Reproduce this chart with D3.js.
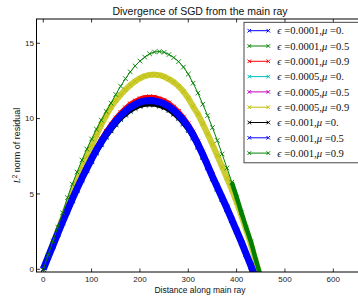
<!DOCTYPE html>
<html lang="en">
<head>
  <meta charset="utf-8">
  <title>Divergence of SGD from the main ray</title>
  <script src="https://d3js.org/d3.v7.min.js"></script>
  <style>
    body { margin: 0; background: #fff; }
    svg { display: block; font-family: "Liberation Sans", Arial, sans-serif; }
  </style>
</head>
<body>
  <div id="chart"></div>
  <script>
    // Distance samples along the main ray (shared by all runs)
    const distance = [0, 10, 20, 30, 40, 50, 60, 70, 80, 90, 100, 110, 120, 130, 140, 150, 160, 170, 180, 190,
      200, 210, 220, 230, 240, 250, 260, 270, 280, 290, 300, 310, 320, 330, 340, 350, 360, 370, 380, 390,
      400, 410, 420, 430, 440, 450];

    // L2 norm of residual, one array per (epsilon, mu) run
    const e0001m0 = [0, 0.79, 1.56, 2.34, 3.1, 3.84, 4.57, 5.27, 5.94, 6.58, 7.2, 7.78, 8.31, 8.81, 9.25, 9.65, 10.01, 10.3, 10.56, 10.74,
      10.89, 10.97, 11.0, 10.98, 10.9, 10.78, 10.61, 10.36, 10.07, 9.7, 9.28, 8.76, 8.15, 7.48, 6.78, 6.04, 5.35, 4.66, 3.98, 3.24,
      2.5, 1.77, 0.98, 0.2, -0.65, null];
    const e0001m05 = [0, 0.79, 1.57, 2.35, 3.12, 3.86, 4.59, 5.3, 5.97, 6.61, 7.23, 7.82, 8.35, 8.85, 9.3, 9.7, 10.06, 10.35, 10.61, 10.8,
      10.95, 11.02, 11.05, 11.03, 10.96, 10.84, 10.66, 10.41, 10.12, 9.75, 9.33, 8.8, 8.19, 7.52, 6.81, 6.07, 5.38, 4.69, 4.0, 3.26,
      2.52, 1.78, 0.99, 0.2, -0.65, null];
    const e0001m09 = [0, 0.82, 1.62, 2.43, 3.23, 4.0, 4.75, 5.49, 6.18, 6.85, 7.49, 8.09, 8.65, 9.17, 9.63, 10.05, 10.41, 10.72, 10.99, 11.18,
      11.33, 11.42, 11.45, 11.43, 11.34, 11.22, 11.04, 10.78, 10.48, 10.1, 9.66, 9.12, 8.48, 7.79, 7.05, 6.29, 5.57, 4.85, 4.14, 3.37,
      2.61, 1.84, 1.02, 0.2, -0.65, null];
    const e0005m0 = [0, 0.78, 1.56, 2.33, 3.1, 3.83, 4.56, 5.26, 5.93, 6.57, 7.18, 7.76, 8.29, 8.79, 9.23, 9.63, 9.99, 10.28, 10.54, 10.72,
      10.87, 10.95, 10.98, 10.96, 10.88, 10.76, 10.58, 10.34, 10.05, 9.68, 9.26, 8.74, 8.13, 7.47, 6.76, 6.03, 5.34, 4.66, 3.97, 3.23,
      2.5, 1.76, 0.98, 0.2, -0.65, null];
    const e0005m05 = [0, 0.79, 1.57, 2.36, 3.13, 3.87, 4.6, 5.32, 5.99, 6.63, 7.26, 7.84, 8.38, 8.88, 9.33, 9.73, 10.09, 10.39, 10.64, 10.83,
      10.98, 11.06, 11.09, 11.07, 10.99, 10.87, 10.69, 10.44, 10.15, 9.78, 9.36, 8.83, 8.22, 7.54, 6.83, 6.09, 5.4, 4.7, 4.01, 3.27,
      2.52, 1.78, 0.99, 0.2, -0.65, null];
    const e0005m09 = [0, 0.85, 1.7, 2.55, 3.4, 4.25, 5.1, 5.9, 6.7, 7.45, 8.2, 8.9, 9.6, 10.2, 10.75, 11.2, 11.58, 11.92, 12.22, 12.48,
      12.68, 12.82, 12.9, 12.92, 12.88, 12.78, 12.62, 12.42, 12.15, 11.8, 11.35, 10.8, 10.3, 9.65, 8.98, 8.28, 7.55, 6.8, 6.05, 5.3,
      4.45, 3.55, 2.6, 1.6, 0.5, -0.6];
    const e001m0 = [0, 0.78, 1.55, 2.32, 3.08, 3.81, 4.53, 5.24, 5.9, 6.53, 7.15, 7.72, 8.25, 8.75, 9.18, 9.58, 9.94, 10.23, 10.48, 10.67,
      10.81, 10.89, 10.92, 10.9, 10.82, 10.71, 10.53, 10.29, 9.99, 9.63, 9.21, 8.7, 8.09, 7.43, 6.73, 6.0, 5.31, 4.63, 3.95, 3.22,
      2.49, 1.76, 0.98, 0.2, -0.65, null];
    const e001m05 = [0, 0.8, 1.59, 2.38, 3.16, 3.91, 4.65, 5.37, 6.05, 6.7, 7.33, 7.92, 8.46, 8.97, 9.42, 9.83, 10.19, 10.49, 10.75, 10.94,
      11.09, 11.17, 11.2, 11.18, 11.1, 10.98, 10.8, 10.55, 10.25, 9.88, 9.45, 8.92, 8.3, 7.62, 6.9, 6.15, 5.45, 4.75, 4.05, 3.3,
      2.55, 1.8, 1.0, 0.2, -0.65, null];
    const e001m09 = [0, 0.93, 1.87, 2.8, 3.75, 4.75, 5.65, 6.45, 7.25, 7.98, 8.65, 9.3, 9.9, 10.48, 11.03, 11.6, 12.15, 12.65, 13.1, 13.5,
      13.82, 14.08, 14.3, 14.42, 14.45, 14.4, 14.25, 14.05, 13.78, 13.42, 12.95, 12.35, 11.7, 10.95, 10.2, 9.4, 8.55, 7.65, 6.72, 5.78,
      4.8, 3.75, 2.75, 1.8, 0.6, -0.5];

    const runs = [e0001m0, e0001m05, e0001m09, e0005m0, e0005m05, e0005m09, e001m0, e001m05, e001m09];
    const epsLabels = ["0.0001", "0.0001", "0.0001", "0.0005", "0.0005", "0.0005", "0.001", "0.001", "0.001"];
    const muLabels = ["0.", "0.5", "0.9", "0.", "0.5", "0.9", "0.", "0.5", "0.9"];
    const colors = ["#0000ff", "#008000", "#ff0000", "#00bfbf", "#bf00bf", "#bfbf00", "#000000", "#0000ff", "#008000"];
    // width of the band the densely packed markers make
    const bandWidths = [4.2, 4.2, 4.2, 4.2, 4.2, 6, 3.2, 7, 1];

    const xTicks = [0, 100, 200, 300, 400, 500, 600];
    const yTicks = [0, 5, 10, 15];

    const width = 358, height = 298;
    const plotL = 36.5, plotR = 362.3, plotT = 19, plotB = 272;

    const x = d3.scaleLinear().domain([-14, 660]).range([plotL, plotR]);
    const y = d3.scaleLinear().domain([-0.18, 16.61]).range([plotB, plotT]);

    const svg = d3.select("#chart").append("svg")
      .attr("width", width)
      .attr("height", height);

    svg.append("defs").append("clipPath").attr("id", "plotclip")
      .append("rect")
      .attr("x", plotL).attr("y", plotT)
      .attr("width", plotR - plotL).attr("height", plotB - plotT);

    const plot = svg.append("g").attr("clip-path", "url(#plotclip)");

    const cross = "M-2.3,-2.3L2.3,2.3M-2.3,2.3L2.3,-2.3";
    const line = d3.line().x(p => x(p[0])).y(p => y(p[1]));

    runs.forEach((vals, i) => {
      const pts = distance.map((d, j) => [d, vals[j]]).filter(p => p[1] !== null && p[1] !== undefined);
      const last = i === runs.length - 1;
      plot.append("path")
        .attr("d", line(pts))
        .attr("fill", "none")
        .attr("stroke", colors[i])
        .attr("stroke-opacity", i === 5 ? 0.8 : 1)
        .attr("stroke-width", bandWidths[i])
        .attr("stroke-linejoin", "round");
      if (last) {
        // the steep tail of this run is crowded with markers
        plot.append("path")
          .attr("d", line(pts.filter(p => p[0] >= 390)))
          .attr("fill", "none")
          .attr("stroke", colors[i])
          .attr("stroke-width", 4.5);
      }
      plot.append("g").selectAll("path")
        .data(pts)
        .join("path")
        .attr("transform", p => `translate(${x(p[0])},${y(p[1])})`)
        .attr("d", cross)
        .attr("stroke", colors[i])
        .attr("stroke-width", last ? 0.9 : 1)
        .attr("opacity", last ? 1 : 0.8);
    });

    // frame
    svg.append("rect")
      .attr("x", plotL).attr("y", plotT)
      .attr("width", plotR - plotL).attr("height", plotB - plotT)
      .attr("fill", "none").attr("stroke", "#000").attr("stroke-width", 1);

    const tickLen = 3.5;
    const ax = svg.append("g").attr("stroke", "#000").attr("stroke-width", 0.8);
    xTicks.forEach(t => {
      ax.append("line").attr("x1", x(t)).attr("x2", x(t)).attr("y1", plotB).attr("y2", plotB - tickLen);
      ax.append("line").attr("x1", x(t)).attr("x2", x(t)).attr("y1", plotT).attr("y2", plotT + tickLen);
    });
    yTicks.forEach(t => {
      ax.append("line").attr("x1", plotL).attr("x2", plotL + tickLen).attr("y1", y(t)).attr("y2", y(t));
    });

    svg.append("g").selectAll("text")
      .data(xTicks).join("text")
      .attr("x", d => x(d)).attr("y", 282)
      .attr("text-anchor", "middle")
      .attr("font-size", 8).attr("fill", "#222")
      .text(d => d);

    svg.append("g").selectAll("text")
      .data(yTicks).join("text")
      .attr("x", 34).attr("y", d => y(d))
      .attr("dy", "0.35em")
      .attr("text-anchor", "end")
      .attr("font-size", 8).attr("fill", "#222")
      .text(d => d);

    svg.append("text")
      .attr("x", 200).attr("y", 14.5)
      .attr("text-anchor", "middle")
      .attr("font-size", 10.5).attr("fill", "#111")
      .text("Divergence of SGD from the main ray");

    svg.append("text")
      .attr("x", 200).attr("y", 293)
      .attr("text-anchor", "middle")
      .attr("font-size", 8.5).attr("fill", "#111")
      .text("Distance along main ray");

    const yl = svg.append("text")
      .attr("transform", `translate(20,${(plotT + plotB) / 2}) rotate(-90)`)
      .attr("text-anchor", "middle")
      .attr("font-size", 9).attr("fill", "#111");
    yl.append("tspan").attr("font-family", "Liberation Serif, serif").attr("font-style", "italic").text("L");
    yl.append("tspan").attr("font-size", 6.5).attr("dy", -3.5).text("2");
    yl.append("tspan").attr("dy", 3.5).text(" norm of residual");

    // legend
    const lg = svg.append("g");
    lg.append("rect")
      .attr("x", 244).attr("y", 22.3)
      .attr("width", 140).attr("height", 140.5)
      .attr("fill", "#fff").attr("stroke", "#333").attr("stroke-width", 0.9);
    runs.forEach((vals, i) => {
      const ry = 30.7 + i * 15.3;
      lg.append("line")
        .attr("x1", 249.3).attr("x2", 268.3).attr("y1", ry).attr("y2", ry)
        .attr("stroke", colors[i]).attr("stroke-width", 1);
      [249.3, 268.3].forEach(mx => {
        lg.append("path")
          .attr("transform", `translate(${mx},${ry})`)
          .attr("d", "M-1.8,-1.8L1.8,1.8M-1.8,1.8L1.8,-1.8")
          .attr("stroke", colors[i]).attr("stroke-width", 1);
      });
      const t = lg.append("text")
        .attr("x", 277.3).attr("y", ry).attr("dy", "0.35em")
        .attr("font-family", "Liberation Serif, serif")
        .attr("font-size", 10.6).attr("fill", "#111");
      t.append("tspan").attr("font-style", "italic").text("\u03f5");
      t.append("tspan").text(" =" + epsLabels[i] + ",");
      t.append("tspan").attr("font-style", "italic").text("\u03bc");
      t.append("tspan").text(" =" + muLabels[i]);
    });
  </script>
</body>
</html>
